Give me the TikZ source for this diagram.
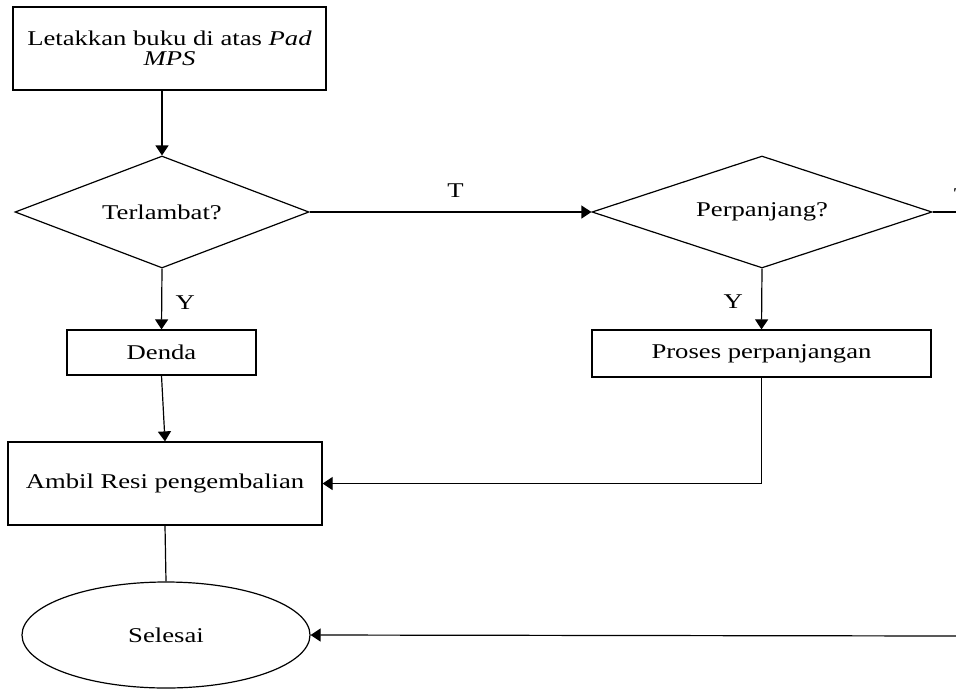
\documentclass[tikz,border=0pt]{standalone}
\usepackage{fontspec}
\setmainfont[FakeStretch=1.27]{Liberation Serif}
\usetikzlibrary{shapes.geometric,arrows.meta}

\begin{document}
\begin{tikzpicture}[x=1pt,y=-1pt,line width=1.2pt,
  every node/.style={font=\fontsize{21}{20}\selectfont},
  box/.style={draw,rectangle,inner sep=0pt,align=center},
  decision/.style={draw,diamond,inner sep=0pt},
  stopper/.style={draw,ellipse,inner sep=0pt},
  arr/.style={-{Triangle[length=10pt,width=13pt]}}]
\useasboundingbox (0,0) rectangle (956,689);
% Nodes
\node[box,minimum width=313pt,minimum height=83pt] (start) at (169.5,48.5) {Letakkan buku di atas \textit{Pad}\\ \textit{MPS}};
\node[decision,aspect=2.62,minimum width=294pt,minimum height=112pt] (late) at (162,212) {Terlambat?};
\node[decision,aspect=3.04,minimum width=340pt,minimum height=112pt] (extend) at (762,212) {Perpanjang?};
\node[box,minimum width=189pt,minimum height=45pt] (fine) at (161.5,352.5) {Denda};
\node[box,minimum width=339pt,minimum height=47pt] (renew) at (761.5,353.5) {Proses perpanjangan};
\node[box,minimum width=314pt,minimum height=83pt] (receipt) at (165,483.5) {Ambil Resi pengembalian};
\node[stopper,minimum width=288pt,minimum height=106pt] (done) at (166,635) {Selesai};
\coordinate (outT) at (956,212);
\coordinate (inT) at (956,636);

%Lines
\draw[arr] (late.north |- start.south) -- (late.north);
\draw[arr] (late.east) -- node[above=11pt,xshift=5pt] {T} (extend.west);
\draw[arr] (late.south) -- node[right=10pt,yshift=-4pt] {Y} (fine.north);
\draw[arr] (extend.south) -- node[left=15pt,yshift=-3pt] {Y} (renew.north);
\draw[arr] (fine.south) -- (receipt.north);
\draw[arr] (renew.south) -- (renew.south |- receipt.east) -- (receipt.east);
\draw (receipt.south) -- (done.north);
\draw (extend.east) -- (outT);
\node at (962,196) {T};
\draw[arr] (inT) -- (done.east);
\end{tikzpicture}
\end{document}
